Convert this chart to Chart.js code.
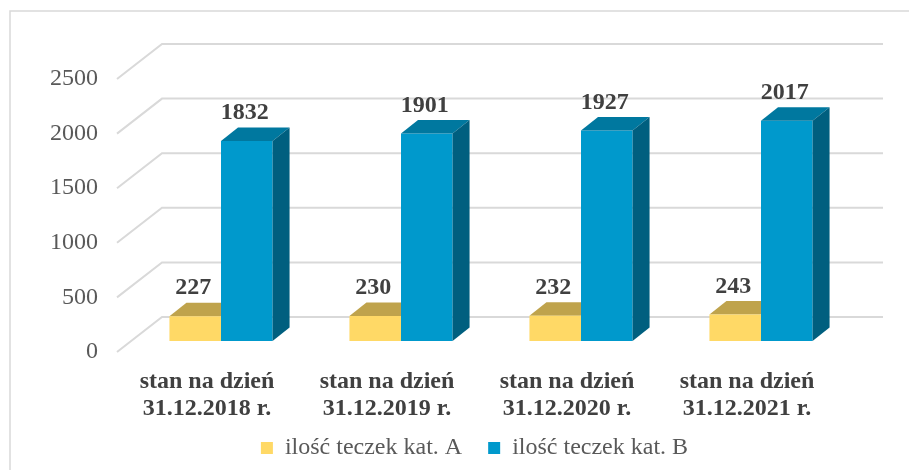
<!DOCTYPE html>
<html>
<head>
<meta charset="utf-8">
<script src="https://cdn.jsdelivr.net/npm/chart.js@4"></script>
<style>
  html, body { margin: 0; padding: 0; background: #ffffff; }
  #wrap { width: 909px; height: 470px; }
</style>
</head>
<body>
<div id="wrap"><canvas id="teczki"></canvas></div>
<script>
const categories = [
    ['stan na dzień', '31.12.2018 r.'],
    ['stan na dzień', '31.12.2019 r.'],
    ['stan na dzień', '31.12.2020 r.'],
    ['stan na dzień', '31.12.2021 r.']
];
const seriesNames = ['ilość teczek kat. A', 'ilość teczek kat. B'];
const katA = [227, 230, 232, 243];
const katB = [1832, 1901, 1927, 2017];
const yTicks = [0, 500, 1000, 1500, 2000, 2500];

// 3d look: bars sit a bit behind the front plane, back wall further back
const wallDx = 45, wallDy = 35;
const barShiftX = 14, barShiftY = 11;
const barDx = 17, barDy = 13.5;

const serif = "'Liberation Serif', 'Times New Roman', serif";

const fake3d = {
    id: 'fake3d',
    afterLayout(chart) {
        // legend sits under the plot, not under the whole canvas
        chart.legend.left = 112;
        // let the two-line category labels run past the axis box
        chart.scales.x.bottom = 432;
    },
    beforeDraw(chart) {
        const ctx = chart.ctx;
        // outer frame
        ctx.save();
        ctx.strokeStyle = '#d9d9d9';
        ctx.lineWidth = 1.5;
        ctx.beginPath();
        ctx.moveTo(10, 480);
        ctx.lineTo(10, 11);
        ctx.lineTo(920, 11);
        ctx.stroke();
        ctx.restore();
    },
    beforeDatasetsDraw(chart) {
        const ctx = chart.ctx;
        const y = chart.scales.y;
        const area = chart.chartArea;
        // back wall grid lines
        ctx.save();
        ctx.strokeStyle = '#d9d9d9';
        ctx.lineWidth = 2;
        yTicks.forEach(v => {
            const py = y.getPixelForValue(v);
            ctx.beginPath();
            ctx.moveTo(area.left, py);
            ctx.lineTo(area.left + wallDx, py - wallDy);
            ctx.lineTo(area.right + wallDx + 1, py - wallDy);
            ctx.stroke();
        });
        ctx.restore();

        // top faces of the yellow bars go under the blue ones
        ctx.save();
        ctx.translate(barShiftX, -barShiftY);
        chart.getDatasetMeta(0).data.forEach(bar => {
            const x0 = bar.x - bar.width / 2, x1 = bar.x + bar.width / 2;
            ctx.fillStyle = '#bfa34c';
            ctx.beginPath();
            ctx.moveTo(x0, bar.y);
            ctx.lineTo(x1, bar.y);
            ctx.lineTo(x1 + barDx, bar.y - barDy);
            ctx.lineTo(x0 + barDx, bar.y - barDy);
            ctx.closePath();
            ctx.fill();
        });
        ctx.restore();

        ctx.save();
        ctx.translate(barShiftX, -barShiftY);
    },
    afterDatasetsDraw(chart) {
        const ctx = chart.ctx;
        chart.getDatasetMeta(1).data.forEach(bar => {
            const x0 = bar.x - bar.width / 2, x1 = bar.x + bar.width / 2;
            ctx.fillStyle = '#00789f';
            ctx.beginPath();
            ctx.moveTo(x0, bar.y);
            ctx.lineTo(x1, bar.y);
            ctx.lineTo(x1 + barDx, bar.y - barDy);
            ctx.lineTo(x0 + barDx, bar.y - barDy);
            ctx.closePath();
            ctx.fill();
            ctx.fillStyle = '#005f7f';
            ctx.beginPath();
            ctx.moveTo(x1, bar.y);
            ctx.lineTo(x1 + barDx, bar.y - barDy);
            ctx.lineTo(x1 + barDx, bar.base - barDy);
            ctx.lineTo(x1, bar.base);
            ctx.closePath();
            ctx.fill();
        });

        // value labels
        ctx.fillStyle = '#404040';
        ctx.font = 'bold 24px ' + serif;
        ctx.textAlign = 'center';
        ctx.textBaseline = 'middle';
        [katA, katB].forEach((vals, di) => {
            chart.getDatasetMeta(di).data.forEach((bar, i) => {
                ctx.fillText(vals[i], bar.x - 2, bar.y - 28);
            });
        });
        ctx.restore();
    }
};

new Chart(document.getElementById('teczki'), {
    type: 'bar',
    data: {
        labels: categories,
        datasets: [
            {
                label: seriesNames[0],
                data: katA,
                backgroundColor: '#ffd966',
                categoryPercentage: 0.573,
                barPercentage: 1.0
            },
            {
                label: seriesNames[1],
                data: katB,
                backgroundColor: '#0099cc',
                categoryPercentage: 0.573,
                barPercentage: 1.0
            }
        ]
    },
    options: {
        responsive: true,
        maintainAspectRatio: false,
        animation: false,
        layout: {
            padding: {left: 45, right: 72, top: 79, bottom: 0}
        },
        plugins: {
            tooltip: {enabled: false},
            legend: {
                position: 'bottom',
                labels: {
                    boxWidth: 12,
                    boxHeight: 12,
                    padding: 26,
                    color: '#595959',
                    font: {family: serif, size: 24}
                }
            }
        },
        scales: {
            x: {
                grid: {display: false, drawTicks: false},
                border: {display: false},
                afterFit(scale) { scale.height = 58; },
                ticks: {
                    color: '#404040',
                    padding: 16,
                    maxRotation: 0,
                    font: {family: serif, size: 24, weight: 'bold', lineHeight: 1.12}
                }
            },
            y: {
                min: 0,
                max: 2500,
                grid: {display: false, drawTicks: false},
                border: {display: false},
                afterFit(scale) { scale.width = 72; },
                ticks: {
                    stepSize: 500,
                    padding: 19,
                    color: '#595959',
                    font: {family: serif, size: 24},
                    callback: v => String(v)
                }
            }
        }
    },
    plugins: [fake3d]
});
</script>
</body>
</html>
